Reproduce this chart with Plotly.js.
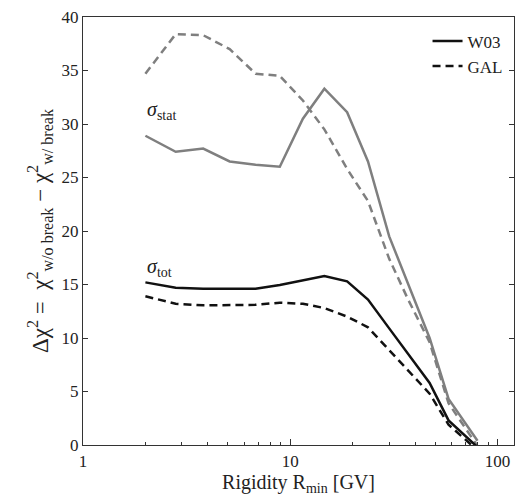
<!DOCTYPE html>
<html>
<head>
<meta charset="utf-8">
<script src="https://cdn.plot.ly/plotly-3.0.1.min.js"></script>
<style>html,body{margin:0;padding:0;background:#fff;}#chart{width:526px;height:499px;}</style>
</head>
<body>
<div id="chart"></div>
<script>
// Rigidity R_min [GV]
const rigidity = [2.0, 2.8, 3.8, 5.1, 6.8, 8.9, 11.5, 14.6, 18.8, 23.7, 30, 37, 47, 58, 80];
// Delta chi^2, statistical errors only
const w03Stat = [28.9, 27.4, 27.7, 26.5, 26.2, 26.0, 30.5, 33.3, 31.1, 26.5, 19.5, 15.0, 10.0, 4.3, 0.4];
const galStat = [34.7, 38.4, 38.3, 37.0, 34.7, 34.5, 32.2, 29.5, 25.8, 22.8, 17.4, 13.6, 9.6, 3.9, -0.1];
// Delta chi^2, total errors
const w03Tot = [15.2, 14.7, 14.6, 14.6, 14.6, 14.95, 15.4, 15.8, 15.3, 13.6, 10.9, 8.5, 5.8, 2.3, -0.2];
const galTot = [13.9, 13.2, 13.05, 13.05, 13.1, 13.3, 13.2, 12.8, 12.0, 11.0, 8.9, 7.0, 4.8, 1.9, -0.5];
const seriesNames = ["W03", "GAL"];

const serif = "Liberation Serif, DejaVu Serif, serif";
const gray = "#7f7f7f";

const traces = [
  {x: rigidity, y: w03Stat, mode: "lines", line: {color: gray, width: 2.5}, showlegend: false},
  {x: rigidity, y: galStat, mode: "lines", line: {color: gray, width: 2.5, dash: "8px,5px"}, showlegend: false},
  {x: rigidity, y: w03Tot, mode: "lines", name: seriesNames[0], line: {color: "#111", width: 2.5}},
  {x: rigidity, y: galTot, mode: "lines", name: seriesNames[1], line: {color: "#111", width: 2.5, dash: "8px,5px"}}
];

const layout = {
  width: 526, height: 499,
  margin: {l: 83, r: 12, t: 17, b: 54},
  paper_bgcolor: "#fff", plot_bgcolor: "#fff",
  font: {family: serif, size: 16, color: "#222"},
  showlegend: true,
  legend: {x: 0.985, y: 0.985, xanchor: "right", yanchor: "top", bgcolor: "rgba(0,0,0,0)",
           font: {family: serif, size: 17, color: "#222"}, tracegroupgap: 0, itemwidth: 30, entrywidth: 60},
  xaxis: {
    type: "log", range: [0, Math.log10(120)],
    dtick: 1, ticks: "inside", ticklen: 6, tickcolor: "#333",
    minor: {dtick: "D1", ticks: "inside", ticklen: 3, tickcolor: "#333"},
    showline: true, linecolor: "#333", linewidth: 1.2, mirror: true,
    showgrid: false, zeroline: false,
    tickfont: {family: serif, size: 17, color: "#222"},
    title: {text: "Rigidity R<sub>min</sub> [GV]", font: {family: serif, size: 20, color: "#222"}, standoff: 2}
  },
  yaxis: {
    range: [0, 40], dtick: 5, ticks: "inside", ticklen: 5, tickcolor: "#333",
    showline: true, linecolor: "#333", linewidth: 1.2, mirror: "ticks",
    showgrid: false, zeroline: false,
    tickfont: {family: serif, size: 17, color: "#222"},
    title: {text: "Δχ<sup>2</sup> =  χ<sup>2</sup><sub>w/o break</sub> − χ<sup>2</sup><sub>w/ break</sub>",
            font: {family: serif, size: 23, color: "#222"}, standoff: 6}
  },
  annotations: [
    {x: Math.log10(2.0), y: 31.3, xref: "x", yref: "y", text: "<i>σ</i><sub>stat</sub>", showarrow: false,
     xanchor: "left", font: {family: serif, size: 20, color: "#222"}},
    {x: Math.log10(2.0), y: 16.6, xref: "x", yref: "y", text: "<i>σ</i><sub>tot</sub>", showarrow: false,
     xanchor: "left", font: {family: serif, size: 20, color: "#222"}}
  ]
};

Plotly.newPlot("chart", traces, layout, {displayModeBar: false, staticPlot: true});
</script>
</body>
</html>
